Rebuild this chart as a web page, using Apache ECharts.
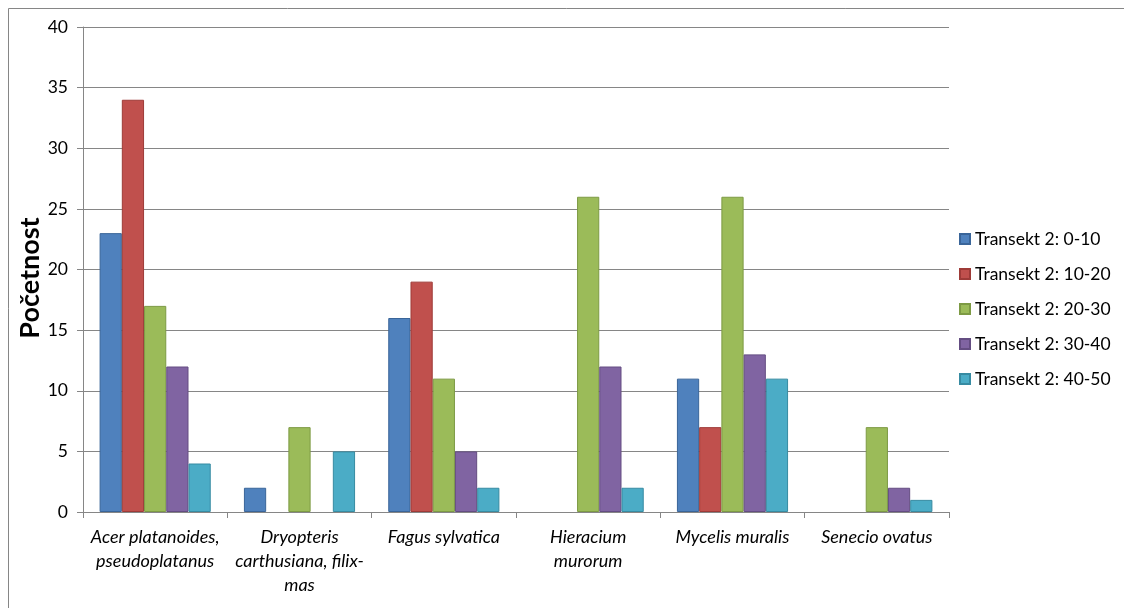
<!DOCTYPE html>
<html><head><meta charset="utf-8">
<script src="https://cdn.jsdelivr.net/npm/echarts@6/dist/echarts.min.js"></script>
<style>html,body{margin:0;padding:0;background:#fff}#c{width:1124px;height:608px}</style>
</head><body><div id="c"></div>
<script>
const categories = ["Acer platanoides,\npseudoplatanus", "Dryopteris\ncarthusiana, filix-\nmas", "Fagus sylvatica", "Hieracium\nmurorum", "Mycelis muralis", "Senecio ovatus"];
const seriesNames = ["Transekt 2: 0-10", "Transekt 2: 10-20", "Transekt 2: 20-30", "Transekt 2: 30-40", "Transekt 2: 40-50"];
const s0_10  = [23, 2, 16, 0, 11, 0];
const s10_20 = [34, 0, 19, 0, 7, 0];
const s20_30 = [17, 7, 11, 26, 26, 7];
const s30_40 = [12, 0, 5, 12, 13, 2];
const s40_50 = [4, 5, 2, 2, 11, 1];
const yTicks = [0, 5, 10, 15, 20, 25, 30, 35, 40];
const yTitle = "Početnost";

const colors = ['#4F81BD', '#C0504D', '#9BBB59', '#8064A2', '#4BACC6'];
const borders = ['#3A6599', '#9E3B38', '#7D9A44', '#644D82', '#378BA2'];
const allData = [s0_10, s10_20, s20_30, s30_40, s40_50];
const font = 'Lato, "Liberation Sans", sans-serif';

const chart = echarts.init(document.getElementById('c'), null, {renderer: 'canvas'});
chart.setOption({
  animation: false,
  color: colors,
  graphic: [
    {type: 'rect', shape: {x: 8.5, y: 8.5, width: 1200, height: 700}, style: {fill: 'none', stroke: '#868686', lineWidth: 1}, z: -1},
    {type: 'text', x: 30, y: 278, rotation: Math.PI / 2,
     style: {text: yTitle, fontFamily: font, fontSize: 27, fontWeight: 'bold', fill: '#000', align: 'center', verticalAlign: 'middle'}}
  ],
  grid: {left: 83, right: 175, top: 27, bottom: 96},
  legend: {
    orient: 'vertical', left: 954, top: 225, itemGap: 17, itemWidth: 10, itemHeight: 10,
    icon: 'rect',
    textStyle: {fontFamily: font, fontSize: 17.5, color: '#000'},
    data: seriesNames
  },
  xAxis: {
    type: 'category', data: categories,
    axisLine: {lineStyle: {color: '#868686', width: 1}},
    axisTick: {show: true, length: 6, alignWithLabel: false, lineStyle: {color: '#868686'}},
    axisLabel: {interval: 0, fontFamily: font, fontSize: 18, fontStyle: 'italic', color: '#000', lineHeight: 24, margin: 13}
  },
  yAxis: {
    type: 'value', min: yTicks[0], max: yTicks[yTicks.length - 1], interval: 5,
    axisLine: {show: true, lineStyle: {color: '#868686'}},
    axisTick: {show: true, length: 6, lineStyle: {color: '#868686'}},
    axisLabel: {fontFamily: font, fontSize: 17.5, color: '#000', margin: 15},
    splitLine: {lineStyle: {color: '#868686', width: 1}}
  },
  series: seriesNames.map((n, i) => ({
    name: n, type: 'bar',
    data: allData[i].map(v => v === 0 ? {value: v, itemStyle: {borderWidth: 0, opacity: 0}} : v),
    barGap: '0%', barCategoryGap: '23%',
    itemStyle: {color: colors[i], borderColor: borders[i], borderWidth: 1}
  }))
});
</script></body></html>
